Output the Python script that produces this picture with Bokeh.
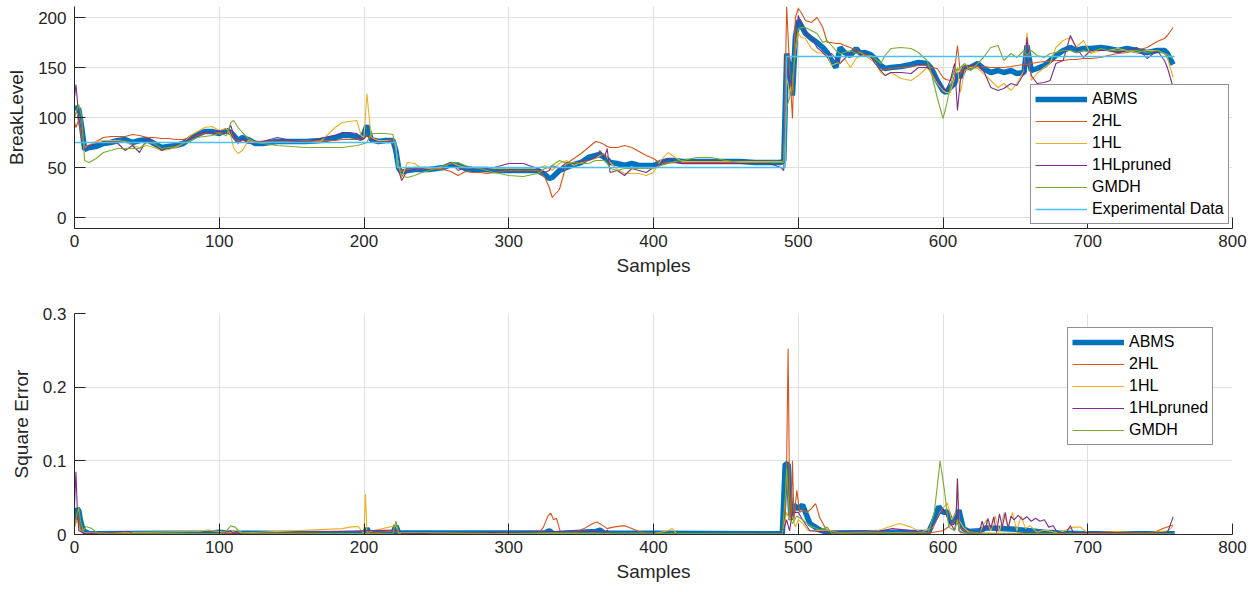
from bokeh.plotting import figure
from bokeh.layouts import column
from bokeh.models import FixedTicker, Range1d, CustomJSTickFormatter
from bokeh.embed import file_html
from bokeh.resources import INLINE

# ---------------- top panel data (BreakLevel) ----------------
samples = [
    0, 1, 3, 5, 7, 10, 15, 20, 25, 30,
    35, 40, 45, 50, 55, 60, 65, 70, 75, 80,
    85, 90, 95, 100, 105, 108, 110, 113, 116, 120,
    125, 130, 140, 150, 160, 170, 180, 185, 190, 195,
    198, 200, 202, 205, 210, 215, 220, 222, 224, 226,
    230, 235, 240, 245, 250, 255, 260, 265, 270, 275,
    280, 285, 290, 300, 310, 320, 325, 328, 330, 335,
    340, 345, 350, 355, 360, 363, 366, 368, 370, 375,
    380, 385, 390, 395, 400, 405, 410, 415, 420, 430,
    440, 450, 460, 470, 480, 488, 490, 492, 494, 496,
    498, 500, 502, 505, 509, 513, 517, 520, 523, 526,
    529, 532, 536, 540, 543, 546, 550, 553, 557, 560,
    564, 571, 578, 583, 589, 592, 596, 600, 602, 605,
    608, 610, 612, 615, 619, 624, 628, 633, 638, 642,
    647, 651, 656, 658, 661, 665, 670, 674, 678, 683,
    688, 692, 697, 702, 709, 714, 721, 727, 734, 741,
    748, 753, 755, 759]

abms = [
    108, 110, 108, 90, 68, 70, 71, 74, 75, 77,
    78, 75, 77, 78, 74, 70, 71, 72, 74, 79,
    83, 86, 86, 84, 87, 85, 82, 77, 80, 78,
    74, 74, 76, 76, 76, 77, 80, 82, 82, 81,
    79, 84, 92, 78, 76, 77, 77, 67, 49, 45,
    47, 48, 48, 48, 49, 50, 53, 52, 49, 48,
    48, 48, 47, 47, 47, 47, 43, 39, 40, 47,
    50, 53, 55, 60, 62, 63, 60, 58, 55, 54,
    52, 54, 52, 52, 52, 55, 57, 57, 56, 56,
    56, 56, 56, 55, 55, 55, 57, 164, 150, 122,
    180, 197, 192, 184, 179, 175, 170, 165, 157, 150,
    170, 165, 162, 169, 164, 165, 163, 159, 152, 149,
    150, 151, 153, 155, 154, 149, 137, 127, 125, 130,
    134, 144, 140, 150, 150, 154, 149, 145, 147, 145,
    147, 144, 145, 172, 147, 149, 152, 157, 162, 167,
    170, 167, 169, 169, 170, 169, 167, 169, 167, 165,
    167, 167, 164, 153]

hl2 = [
    95, 90, 98, 80, 70, 72, 76, 80, 81, 81,
    81, 83, 82, 80, 80, 79, 79, 78, 78, 80,
    82, 84, 85, 85, 85, 86, 80, 77, 77, 76,
    76, 76, 76, 76, 77, 77, 77, 78, 78, 78,
    78, 80, 82, 79, 77, 77, 78, 70, 52, 46,
    48, 48, 49, 49, 48, 48, 46, 42, 46, 45,
    45, 44, 45, 47, 47, 47, 40, 30, 20, 28,
    54, 59, 64, 70, 76, 75, 73, 71, 70, 70,
    72, 70, 66, 62, 59, 54, 55, 55, 55, 55,
    55, 55, 55, 55, 55, 55, 56, 211, 150, 99,
    200, 209, 205, 197, 195, 200, 190, 175, 175, 174,
    174, 172, 170, 167, 165, 163, 162, 155, 147, 148,
    149, 150, 151, 152, 152, 150, 149, 140, 138, 137,
    147, 172, 144, 152, 151, 151, 151, 150, 150, 150,
    151, 152, 153, 153, 154, 155, 156, 156, 157, 157,
    158, 158, 159, 159, 160, 162, 164, 165, 167, 170,
    176, 179, 182, 190]

hl1 = [
    100, 105, 102, 85, 70, 72, 76, 77, 77, 77,
    76, 72, 70, 72, 70, 67, 68, 70, 74, 82,
    86, 90, 91, 87, 89, 82, 69, 64, 67, 77,
    75, 75, 75, 75, 75, 76, 90, 95, 96, 97,
    82, 80, 124, 80, 77, 77, 77, 70, 50, 40,
    55, 54, 49, 49, 49, 50, 55, 52, 50, 49,
    49, 49, 49, 49, 49, 49, 52, 49, 47, 54,
    57, 52, 55, 57, 59, 62, 64, 60, 55, 48,
    44, 44, 44, 42, 45, 57, 65, 60, 56, 56,
    56, 56, 56, 56, 56, 56, 55, 140, 125, 135,
    165, 185, 180, 179, 169, 165, 164, 162, 152, 154,
    155, 159, 150, 159, 162, 162, 158, 155, 145, 142,
    145, 139, 137, 142, 150, 144, 134, 127, 125, 125,
    140, 150, 125, 147, 150, 149, 144, 137, 130, 134,
    127, 134, 147, 185, 137, 144, 150, 154, 170, 177,
    180, 170, 177, 164, 167, 167, 169, 167, 165, 167,
    167, 164, 160, 140]

hl1_pruned = [
    120, 133, 100, 85, 68, 72, 74, 75, 74, 74,
    67, 72, 65, 79, 75, 67, 70, 72, 75, 79,
    83, 85, 85, 87, 84, 92, 82, 74, 79, 74,
    74, 76, 80, 77, 75, 79, 82, 85, 85, 84,
    78, 79, 82, 79, 74, 76, 77, 65, 47, 37,
    47, 48, 49, 48, 49, 51, 55, 47, 50, 49,
    49, 49, 50, 54, 54, 49, 45, 47, 52, 49,
    55, 54, 56, 57, 60, 67, 59, 69, 45, 47,
    42, 49, 47, 45, 50, 54, 59, 56, 54, 54,
    54, 54, 54, 54, 54, 50, 47, 150, 140, 129,
    170, 202, 194, 185, 180, 170, 165, 160, 164, 159,
    154, 159, 164, 167, 162, 164, 162, 154, 147, 142,
    145, 145, 144, 150, 150, 147, 137, 129, 127, 137,
    154, 107, 137, 150, 152, 154, 147, 130, 127, 129,
    134, 132, 144, 180, 142, 134, 135, 137, 154, 157,
    182, 170, 160, 167, 167, 167, 165, 167, 170, 159,
    167, 157, 150, 130]

gmdh = [
    100, 105, 113, 100, 57, 55, 59, 65, 67, 69,
    69, 69, 69, 75, 74, 69, 70, 71, 74, 77,
    80, 81, 82, 84, 82, 95, 97, 90, 85, 79,
    75, 74, 72, 71, 70, 70, 70, 70, 71, 72,
    73, 74, 75, 84, 84, 84, 83, 67, 50, 42,
    40, 42, 45, 47, 49, 52, 54, 55, 52, 50,
    49, 47, 45, 42, 41, 44, 49, 50, 52, 57,
    54, 55, 54, 54, 57, 57, 57, 54, 49, 47,
    49, 49, 49, 49, 49, 52, 54, 56, 57, 60,
    60, 57, 55, 55, 55, 55, 55, 110, 120, 129,
    170, 189, 190, 190, 187, 184, 175, 177, 172, 167,
    164, 165, 167, 164, 165, 162, 162, 159, 154, 162,
    169, 170, 169, 165, 157, 144, 120, 99, 110, 130,
    150, 147, 150, 154, 147, 154, 160, 170, 172, 157,
    164, 160, 167, 162, 167, 162, 160, 164, 165, 167,
    167, 165, 167, 165, 169, 167, 167, 167, 167, 165,
    167, 164, 163, 159]

exp_samples = [0, 222, 223, 491, 492, 760]
exp_level = [75, 75, 50, 50, 161, 161]

for name, series in [("abms", abms), ("hl2", hl2), ("hl1", hl1),
                     ("hl1_pruned", hl1_pruned), ("gmdh", gmdh)]:
    assert len(series) == len(samples), (name, len(series), len(samples))

# ---------------- bottom panel data (Square Error) ----------------
err_abms = [(0, 0.02), (1, 0.03), (2, 0.035), (3, 0.032), (4, 0.02), (6, 0.005), (10, 0.001),
            (95, 0.002), (100, 0.003), (105, 0.002), (200, 0.001), (202, 0.008), (204, 0.001),
            (220, 0.001), (222, 0.012), (224, 0.002), (325, 0.002), (328, 0.005), (331, 0.001),
            (360, 0.004), (363, 0.006), (366, 0.002), (489, 0.001), (491, 0.096), (493, 0.095),
            (495, 0.02), (497, 0.04), (500, 0.035), (503, 0.04), (508, 0.015), (515, 0.006),
            (522, 0.002), (590, 0.003), (594, 0.02), (597, 0.038), (600, 0.03), (603, 0.031),
            (606, 0.015), (608, 0.02), (611, 0.033), (614, 0.008), (618, 0.004), (625, 0.005),
            (630, 0.009), (640, 0.008), (650, 0.007), (660, 0.005), (670, 0.003), (680, 0.002),
            (700, 0.001), (760, 0.001)]

err_2hl = [(0, 0.01), (2, 0.03), (4, 0.01), (6, 0.003), (10, 0.002), (20, 0.001), (90, 0.001),
           (110, 0.002), (200, 0.001), (222, 0.005), (224, 0.001), (320, 0.001), (324, 0.01),
           (327, 0.025), (329, 0.029), (331, 0.02), (333, 0.022), (336, 0.001), (345, 0.002),
           (352, 0.008), (358, 0.015), (361, 0.017), (365, 0.012), (368, 0.008), (372, 0.01),
           (376, 0.011), (380, 0.012), (385, 0.008), (390, 0.004), (397, 0.001), (489, 0.001),
           (491, 0.02), (492, 0.1), (493, 0.252), (494, 0.05), (495, 0.02), (496, 0.1),
           (497, 0.02), (499, 0.06), (501, 0.03), (503, 0.033), (506, 0.03), (509, 0.035),
           (512, 0.042), (515, 0.022), (519, 0.008), (523, 0.002), (590, 0.002), (600, 0.005),
           (605, 0.012), (609, 0.02), (611, 0.01), (615, 0.005), (625, 0.002), (700, 0.001),
           (745, 0.002), (752, 0.008), (759, 0.013)]

err_1hl = [(0, 0.01), (2, 0.02), (4, 0.005), (8, 0.002), (85, 0.004), (92, 0.006), (100, 0.004),
           (108, 0.003), (112, 0.006), (116, 0.002), (185, 0.008), (190, 0.01), (196, 0.011),
           (199, 0.003), (200, 0.003), (201, 0.055), (202, 0.003), (222, 0.012), (224, 0.002),
           (400, 0.001), (410, 0.005), (413, 0.008), (416, 0.001), (489, 0.001), (492, 0.03),
           (494, 0.02), (496, 0.025), (498, 0.01), (500, 0.02), (503, 0.015), (507, 0.005),
           (520, 0.006), (530, 0.002), (555, 0.005), (565, 0.012), (570, 0.015), (578, 0.01),
           (585, 0.003), (593, 0.01), (598, 0.03), (603, 0.043), (606, 0.02), (609, 0.03),
           (610, 0.076), (611, 0.02), (614, 0.01), (618, 0.003), (625, 0.002), (630, 0.02),
           (633, 0.005), (636, 0.025), (639, 0.004), (642, 0.028), (645, 0.01), (648, 0.03),
           (651, 0.005), (654, 0.025), (657, 0.008), (660, 0.012), (665, 0.003), (670, 0.006),
           (680, 0.002), (690, 0.01), (695, 0.01), (700, 0.002), (720, 0.004), (740, 0.002),
           (755, 0.005), (759, 0.011)]

err_1hl_pruned = [(0, 0.04), (1, 0.085), (2, 0.03), (3, 0.005), (8, 0.001), (38, 0.004), (40, 0.001),
                  (100, 0.002), (108, 0.005), (110, 0.001), (222, 0.006), (225, 0.003), (227, 0.001),
                  (363, 0.005), (366, 0.001), (368, 0.006), (370, 0.001), (489, 0.001), (492, 0.02),
                  (494, 0.005), (496, 0.03), (500, 0.03), (503, 0.02), (508, 0.005), (520, 0.003),
                  (555, 0.004), (565, 0.008), (575, 0.006), (590, 0.002), (597, 0.025), (600, 0.035),
                  (604, 0.02), (608, 0.005), (609, 0.02), (610, 0.076), (611, 0.005), (614, 0.002),
                  (625, 0.002), (627, 0.018), (629, 0.005), (631, 0.022), (633, 0.008), (635, 0.024),
                  (637, 0.003), (639, 0.028), (641, 0.01), (643, 0.03), (645, 0.008), (647, 0.025),
                  (649, 0.02), (652, 0.026), (655, 0.02), (658, 0.024), (661, 0.018), (664, 0.022),
                  (667, 0.018), (670, 0.02), (673, 0.01), (676, 0.012), (679, 0.003), (685, 0.002),
                  (688, 0.012), (690, 0.002), (705, 0.003), (755, 0.002), (759, 0.024)]

err_gmdh = [(0, 0.01), (2, 0.03), (3, 0.037), (4, 0.02), (6, 0.005), (8, 0.011), (12, 0.008),
            (16, 0.002), (100, 0.001), (105, 0.005), (108, 0.012), (111, 0.01), (115, 0.002),
            (220, 0.001), (222, 0.018), (224, 0.003), (300, 0.001), (330, 0.002), (489, 0.001),
            (491, 0.05), (492, 0.09), (494, 0.02), (496, 0.015), (499, 0.025), (503, 0.02),
            (508, 0.012), (515, 0.006), (520, 0.01), (523, 0.002), (590, 0.003), (594, 0.03),
            (598, 0.1), (601, 0.06), (604, 0.01), (608, 0.005), (610, 0.02), (612, 0.002),
            (620, 0.002), (640, 0.001), (760, 0.001)]

x_ticks = [0, 100, 200, 300, 400, 500, 600, 700, 800]
top_ticks = [0, 50, 100, 150, 200]
bottom_ticks = [0, 0.1, 0.2, 0.3]

# ---------------- styling ----------------
FONT = "Liberation Sans"
TXT = "#262626"
GRID = "#e0e0e0"
C_ABMS = "#0072BD"
C_2HL = "#D95319"
C_1HL = "#EDB120"
C_PR = "#7E2F8E"
C_GM = "#77AC30"
C_EXP = "#4DBEEE"
THIN = 1.1


def style(p, yticks):
    p.outline_line_color = None
    p.background_fill_color = "white"
    p.border_fill_color = "white"
    for ax in (p.xaxis[0], p.yaxis[0]):
        ax.axis_line_color = TXT
        ax.axis_line_width = 1
        ax.major_tick_line_color = TXT
        ax.major_tick_in = 11
        ax.major_tick_out = 0
        ax.minor_tick_line_color = None
        ax.major_label_text_font = FONT
        ax.major_label_text_font_size = "17px"
        ax.major_label_text_color = TXT
        ax.axis_label_text_font = FONT
        ax.axis_label_text_font_size = "19px"
        ax.axis_label_text_font_style = "normal"
        ax.axis_label_text_color = TXT
    p.xaxis[0].ticker = FixedTicker(ticks=x_ticks)
    p.yaxis[0].ticker = FixedTicker(ticks=yticks)
    p.xaxis[0].major_label_standoff = 6
    p.yaxis[0].major_label_standoff = 8
    p.xaxis[0].axis_label_standoff = 5
    p.yaxis[0].axis_label_standoff = 8
    p.xgrid.grid_line_color = GRID
    p.ygrid.grid_line_color = GRID
    p.xgrid.ticker = FixedTicker(ticks=x_ticks)
    p.ygrid.ticker = FixedTicker(ticks=yticks)


def style_legend(p, loc):
    lg = p.legend[0]
    lg.location = loc
    lg.label_text_font = FONT
    lg.label_text_font_size = "16px"
    lg.label_text_color = "black"
    lg.border_line_color = TXT
    lg.border_line_width = 1
    lg.background_fill_alpha = 1
    lg.padding = 4
    lg.spacing = 2
    lg.margin = 0
    lg.glyph_width = 52
    lg.glyph_height = 20
    lg.label_height = 20
    lg.label_standoff = 5


# ---------------- top figure ----------------
p1 = figure(frame_width=1158, frame_height=222,
            x_range=Range1d(0, 800), y_range=Range1d(-11, 211),
            output_backend="svg", toolbar_location=None,
            min_border_left=74, min_border_right=23,
            min_border_top=6, min_border_bottom=68)
p1.line(samples, abms, line_color=C_ABMS, line_width=5.5, legend_label="ABMS")
p1.line(samples, hl2, line_color=C_2HL, line_width=THIN, legend_label="2HL")
p1.line(samples, hl1, line_color=C_1HL, line_width=THIN, legend_label="1HL")
p1.line(samples, hl1_pruned, line_color=C_PR, line_width=THIN, legend_label="1HLpruned")
p1.line(samples, gmdh, line_color=C_GM, line_width=THIN, legend_label="GMDH")
p1.line(exp_samples, exp_level, line_color=C_EXP, line_width=1.3, legend_label="Experimental Data")
p1.xaxis.axis_label = "Samples"
p1.yaxis.axis_label = "BreakLevel"
style(p1, top_ticks)
style_legend(p1, (956, 4))

# ---------------- bottom figure ----------------
p2 = figure(frame_width=1158, frame_height=221,
            x_range=Range1d(0, 800), y_range=Range1d(0, 0.3),
            output_backend="svg", toolbar_location=None,
            min_border_left=74, min_border_right=23,
            min_border_top=17, min_border_bottom=58)


def xy(pairs):
    return [a for a, _ in pairs], [b for _, b in pairs]


p2.line(*xy(err_abms), line_color=C_ABMS, line_width=5.5, legend_label="ABMS")
p2.line(*xy(err_2hl), line_color=C_2HL, line_width=THIN, legend_label="2HL")
p2.line(*xy(err_1hl), line_color=C_1HL, line_width=THIN, legend_label="1HL")
p2.line(*xy(err_1hl_pruned), line_color=C_PR, line_width=THIN, legend_label="1HLpruned")
p2.line(*xy(err_gmdh), line_color=C_GM, line_width=THIN, legend_label="GMDH")
p2.xaxis.axis_label = "Samples"
p2.yaxis.axis_label = "Square Error"
style(p2, bottom_ticks)
p2.yaxis[0].formatter = CustomJSTickFormatter(code="return String(Math.round(tick * 10) / 10);")
style_legend(p2, (993, 89))

layout = column(p1, p2, spacing=0)
open("out.html", "w").write(file_html(layout, INLINE))
